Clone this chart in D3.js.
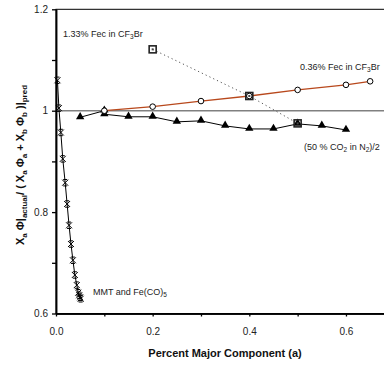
<!DOCTYPE html>
<html>
<head>
<meta charset="utf-8">
<script src="https://cdn.jsdelivr.net/npm/d3@7"></script>
<style>
  body { margin: 0; background: #fff; }
  svg { display: block; font-family: "Liberation Sans", Arial, sans-serif; }
</style>
</head>
<body>
<div id="chart"></div>
<script>
// series
const mmtX = [0.003, 0.006, 0.010, 0.014, 0.019, 0.023, 0.027, 0.031, 0.035, 0.039, 0.043, 0.046, 0.048, 0.050, 0.051];
const mmtY = [1.060, 1.005, 0.957, 0.905, 0.858, 0.816, 0.774, 0.737, 0.705, 0.676, 0.656, 0.641, 0.636, 0.632, 0.629];

const co2X = [0.05, 0.10, 0.10, 0.15, 0.20, 0.25, 0.30, 0.35, 0.40, 0.45, 0.50, 0.55, 0.60];
const co2Y = [0.987, 1.000, 0.993, 0.988, 0.988, 0.978, 0.980, 0.970, 0.964, 0.964, 0.974, 0.970, 0.962];

const fec36X = [0.10, 0.20, 0.30, 0.40, 0.50, 0.60, 0.65];
const fec36Y = [1.000, 1.008, 1.019, 1.029, 1.041, 1.051, 1.058];

const fec133X = [0.20, 0.40, 0.50];
const fec133Y = [1.121, 1.029, 0.975];

const xMajor = [0, 0.2, 0.4, 0.6];
const xMinor = [0.1, 0.3, 0.5];
const yMajor = [0.6, 0.8, 1.0, 1.2];
const yMinor = [0.7, 0.9, 1.1];
const yLabels = ["0.6", "0.8", "1", "1.2"];

const W = 384, H = 365;
const svg = d3.select('#chart').append('svg')
  .attr('width', W).attr('height', H);

const x = d3.scaleLinear().domain([0, 0.7]).range([56, 394.3]);
const y = d3.scaleLinear().domain([0.6, 1.2]).range([313.5, 9.3]);

const zip = (a, b) => a.map((v, i) => [v, b[i]]);
const line = d3.line().x(d => x(d[0])).y(d => y(d[1]));

// frame + reference line at 1
svg.append('rect')
  .attr('x', x(0)).attr('y', y(1.2))
  .attr('width', x(0.7) - x(0)).attr('height', y(0.6) - y(1.2))
  .attr('fill', 'none').attr('stroke', '#000').attr('stroke-width', 1);
svg.append('line')
  .attr('x1', x(0)).attr('x2', x(0.7))
  .attr('y1', y(1)).attr('y2', y(1))
  .attr('stroke', '#808080').attr('stroke-width', 1.5);

// axes
const xAxis = svg.append('g').attr('transform', `translate(0,${y(0.6)})`)
  .call(d3.axisBottom(x).tickValues(xMajor).tickSize(3).tickSizeOuter(0).tickFormat(d3.format('.1f')));
svg.append('g').attr('transform', `translate(0,${y(0.6)})`)
  .call(d3.axisBottom(x).tickValues(xMinor).tickSize(3).tickSizeOuter(0).tickFormat(''));
const yAxis = svg.append('g').attr('transform', `translate(${x(0)},0)`)
  .call(d3.axisLeft(y).tickValues(yMajor).tickSize(4).tickSizeOuter(0).tickFormat((d, i) => yLabels[i]));
svg.append('g').attr('transform', `translate(${x(0)},0)`)
  .call(d3.axisLeft(y).tickValues(yMinor).tickSize(4).tickSizeOuter(0).tickFormat(''));

svg.selectAll('.domain').attr('stroke', '#000').attr('stroke-width', 1.5);
svg.selectAll('.tick line').attr('stroke', '#000').attr('stroke-width', 1.3);
svg.selectAll('.tick text').attr('font-size', 10).attr('fill', '#222')
  .attr('font-family', '"Liberation Sans", Arial, sans-serif');
xAxis.selectAll('.tick text').attr('dy', '1.5em');
yAxis.selectAll('.tick text').attr('x', -8);

// lines
svg.append('path').datum(zip(fec133X, fec133Y)).attr('d', line)
  .attr('fill', 'none').attr('stroke', '#555').attr('stroke-width', 1).attr('stroke-dasharray', '1.2,3');
svg.append('path').datum(zip(fec36X, fec36Y)).attr('d', line)
  .attr('fill', 'none').attr('stroke', '#b8481c').attr('stroke-width', 1.3);
svg.append('path').datum(zip(co2X, co2Y)).attr('d', line)
  .attr('fill', 'none').attr('stroke', '#000').attr('stroke-width', 1);
svg.append('path').datum(zip(mmtX, mmtY)).attr('d', line)
  .attr('fill', 'none').attr('stroke', '#000').attr('stroke-width', 1);

// markers
const tri = d3.symbol().type(d3.symbolTriangle).size(30);
svg.append('g').selectAll('path').data(zip(co2X, co2Y)).join('path')
  .attr('d', tri)
  .attr('transform', d => `translate(${x(d[0])},${y(d[1]) - 0.5})`)
  .attr('fill', '#000');

svg.append('g').selectAll('circle').data(zip(fec36X, fec36Y)).join('circle')
  .attr('cx', d => x(d[0])).attr('cy', d => y(d[1])).attr('r', 2.8)
  .attr('fill', '#fff').attr('stroke', '#000').attr('stroke-width', 1);

const sq = svg.append('g').selectAll('g').data(zip(fec133X, fec133Y)).join('g')
  .attr('transform', d => `translate(${x(d[0])},${y(d[1])})`);
sq.append('rect').attr('x', -3.5).attr('y', -3.5).attr('width', 7).attr('height', 7)
  .attr('fill', 'none').attr('stroke', '#222').attr('stroke-width', 1.6);
sq.append('rect').attr('x', -1).attr('y', -1).attr('width', 2).attr('height', 2)
  .attr('fill', '#444');

const star = 'M-3,-3L3,3M-3,3L3,-3M-2,-3.2L2,-3.2M-2,3.2L2,3.2';
svg.append('g').selectAll('path').data(zip(mmtX, mmtY)).join('path')
  .attr('d', star)
  .attr('transform', d => `translate(${x(d[0])},${y(d[1])})`)
  .attr('fill', 'none').attr('stroke', '#000').attr('stroke-width', 1);

// text with subscripts: parts are [string, isSub]
function richText(t, parts, subSize, shift) {
  let prev = 0;
  parts.forEach(([s, sub]) => {
    const ts = t.append('tspan').text(s);
    if (sub !== prev) ts.attr('dy', sub ? shift : -shift);
    if (sub) ts.attr('font-size', subSize);
    prev = sub;
  });
  return t;
}
function label(xp, yp, parts) {
  const t = svg.append('text').attr('x', xp).attr('y', yp)
    .attr('font-size', 9).attr('fill', '#222');
  return richText(t, parts, 6.5, 2);
}
label(63, 37, [['1.33% Fec in CF', 0], ['3', 1], ['Br', 0]]);
label(300, 70, [['0.36% Fec in CF', 0], ['3', 1], ['Br', 0]]);
label(304, 150, [['(50 % CO', 0], ['2', 1], [' in N', 0], ['2', 1], [')/2', 0]]);
label(93, 295, [['MMT and Fe(CO)', 0], ['5', 1]]);

// axis titles
svg.append('text').attr('x', 225).attr('y', 357).attr('text-anchor', 'middle')
  .attr('font-size', 11).attr('font-weight', 'bold').attr('fill', '#111')
  .text('Percent Major Component (a)');

const yt = svg.append('text')
  .attr('transform', 'translate(24,165) rotate(-90)')
  .attr('text-anchor', 'middle')
  .attr('font-size', 11).attr('font-weight', 'bold').attr('fill', '#111');
richText(yt, [['X', 0], ['a', 1], [' \u03A6|', 0], ['actual', 1], ['/ ( X', 0], ['a', 1], [' \u03A6', 0], ['a', 1],
  [' + X', 0], ['b', 1], [' \u03A6', 0], ['b', 1], [' )|', 0], ['pred', 1]], 8, 3);
</script>
</body>
</html>
